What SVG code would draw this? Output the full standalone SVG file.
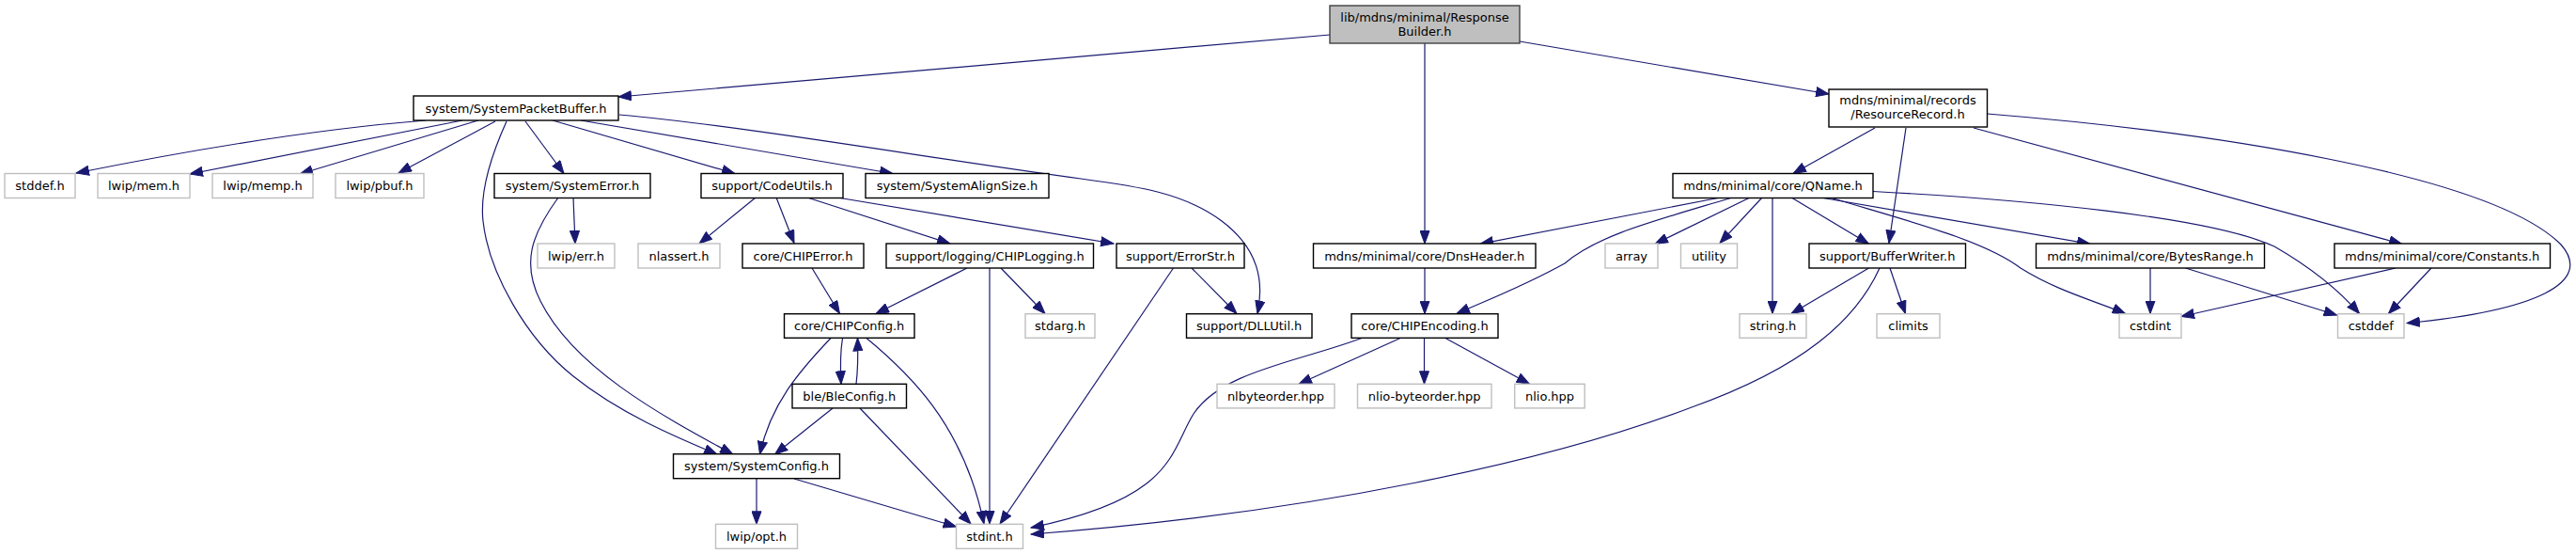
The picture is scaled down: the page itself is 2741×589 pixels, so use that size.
<svg xmlns="http://www.w3.org/2000/svg" width="2741" height="589" viewBox="0 0 2741 589">
<style>
rect{stroke-width:1.4}
.n rect{fill:#fff;stroke:#000}
.g rect{fill:#fff;stroke:#bfbfbf}
.r rect{fill:#bfbfbf;stroke:#404040}
text{font-family:"DejaVu Sans","Liberation Sans",sans-serif;font-size:13px;fill:#000;text-anchor:middle}
#edges path{fill:none;stroke:#191970;stroke-width:1.2;marker-end:url(#a)}
</style>
<defs>
<marker id="a" markerUnits="userSpaceOnUse" markerWidth="15" markerHeight="11" refX="14" refY="5.5" orient="auto" viewBox="0 0 15 11">
<path d="M0.5,0.5 L14,5.5 L0.5,10.5 z" fill="#191970" stroke="#191970" stroke-width="1"/>
</marker>
</defs>
<rect width="2741" height="589" fill="#fff"/>
<g id="edges">
<path d="M1415,37 L658,103"/>
<path d="M1516,46 L1516,259"/>
<path d="M1617,44 L1946,100"/>
<path d="M453,128 Q300,140 81,184"/>
<path d="M492,128 L202,185"/>
<path d="M509,128 L319,185"/>
<path d="M527,129 L424,184"/>
<path d="M539,129 C525,160 510,200 514,235 C520,290 560,360 610,400 C660,440 720,465 763,483"/>
<path d="M559,129 L600,184.5"/>
<path d="M588,128 L782,184.5"/>
<path d="M618,128 L950,184.5"/>
<path d="M659,122 C800,135 1000,170 1150,190 C1210,198 1260,205 1300,235 C1340,265 1345,300 1338,333.5"/>
<path d="M610,210 L612,259"/>
<path d="M594,210 C565,250 555,280 575,320 C610,390 700,440 780,483"/>
<path d="M804,210 L744,259"/>
<path d="M826,210 L845,258.5"/>
<path d="M859,210 L1011,259"/>
<path d="M891,210 L1185,259"/>
<path d="M864,285 L893.5,333.5"/>
<path d="M1029,285 L932,333.5"/>
<path d="M1053,285 L1053,557"/>
<path d="M1065,285 L1112,333.5"/>
<path d="M1268,285 L1316,333.5"/>
<path d="M1248.5,285 L1064,557"/>
<path d="M896.5,359.5 C894,375 894,390 895,408.3"/>
<path d="M911,408.3 C913,392 913,375 912.5,359.5"/>
<path d="M884,359.5 C850,395 820,430 808.5,483"/>
<path d="M922,359.5 C965,395 1025,450 1047,557"/>
<path d="M886,434 L824.5,483"/>
<path d="M915,434 L1033,557"/>
<path d="M805,509 L805,557.3"/>
<path d="M845,509 L1017.5,560"/>
<path d="M1516,284 L1516,333.7"/>
<path d="M1490,359.5 L1382,408.3"/>
<path d="M1515.5,359.5 L1515.5,408.3"/>
<path d="M1538,359.5 L1627.5,408.3"/>
<path d="M1449,359.5 C1380,385 1300,395 1270,440 C1245,480 1250,530 1097,561"/>
<path d="M1828,210.5 L1575,259.3"/>
<path d="M1841.5,210.5 C1760,235 1700,250 1665,280 C1620,305 1580,320 1550,333.5"/>
<path d="M1861,210.5 L1761,259.3"/>
<path d="M1874.5,210.5 L1830,258.5"/>
<path d="M1886,210.5 L1886,333.5"/>
<path d="M1907,210.5 L1988.5,259.3"/>
<path d="M1940,210.5 L2224,259.3"/>
<path d="M1949,210.5 C2030,235 2110,255 2150,285 C2190,310 2230,320 2261.5,333.5"/>
<path d="M1993,203.5 C2150,212 2350,230 2420,262 C2460,285 2490,310 2510.5,333.5"/>
<path d="M1995,136 L1908,184.5"/>
<path d="M2028,136 L2010,258.5"/>
<path d="M2100,136 L2556,259.5"/>
<path d="M2114.5,121 C2350,140 2650,185 2725,260 C2760,300 2700,330 2561,343.5"/>
<path d="M1988.5,285 L1906,333.5"/>
<path d="M2011,285 L2027.5,333.5"/>
<path d="M2000,285 C1975,340 1920,390 1800,433 C1650,490 1400,545 1097,568"/>
<path d="M2288,285 L2288,333.5"/>
<path d="M2325.5,285 L2486.5,335"/>
<path d="M2549,285 L2321,336.5"/>
<path d="M2587,285 L2541.5,333.5"/>
</g>
<g id="root" class="r"><rect x="1415" y="6" width="202" height="40"/><text x="1516" y="22.5">lib/mdns/minimal/Response</text><text x="1516" y="37.5">Builder.h</text></g>
<g id="SystemPacketBuffer" class="n"><rect x="440" y="102" width="218" height="26"/><text x="549" y="119.5">system/SystemPacketBuffer.h</text></g>
<g id="ResourceRecord" class="n"><rect x="1946" y="95" width="168.5" height="40"/><text x="2030" y="111">mdns/minimal/records</text><text x="2030" y="126">/ResourceRecord.h</text></g>
<g id="stddef" class="g"><rect x="5" y="184.5" width="75" height="26"/><text x="42.5" y="202">stddef.h</text></g>
<g id="lwipmem" class="g"><rect x="104" y="184.5" width="98" height="26"/><text x="153" y="202">lwip/mem.h</text></g>
<g id="lwipmemp" class="g"><rect x="226" y="184.5" width="107" height="26"/><text x="279.5" y="202">lwip/memp.h</text></g>
<g id="lwippbuf" class="g"><rect x="357" y="184.5" width="94" height="26"/><text x="404" y="202">lwip/pbuf.h</text></g>
<g id="SystemError" class="n"><rect x="526" y="184.5" width="166" height="26"/><text x="609" y="202">system/SystemError.h</text></g>
<g id="CodeUtils" class="n"><rect x="746" y="184.5" width="151" height="26"/><text x="821.5" y="202">support/CodeUtils.h</text></g>
<g id="SystemAlignSize" class="n"><rect x="921" y="184.5" width="195" height="26"/><text x="1018.5" y="202">system/SystemAlignSize.h</text></g>
<g id="QName" class="n"><rect x="1780" y="184.5" width="213" height="26"/><text x="1886.5" y="202">mdns/minimal/core/QName.h</text></g>
<g id="lwiperr" class="g"><rect x="572" y="259" width="82" height="26"/><text x="613" y="276.5">lwip/err.h</text></g>
<g id="nlassert" class="g"><rect x="679" y="259" width="87" height="26"/><text x="722.5" y="276.5">nlassert.h</text></g>
<g id="CHIPError" class="n"><rect x="790" y="259" width="129" height="26"/><text x="854.5" y="276.5">core/CHIPError.h</text></g>
<g id="CHIPLogging" class="n"><rect x="943" y="259" width="220.5" height="26"/><text x="1053.2" y="276.5">support/logging/CHIPLogging.h</text></g>
<g id="ErrorStr" class="n"><rect x="1188" y="259" width="136" height="26"/><text x="1256" y="276.5">support/ErrorStr.h</text></g>
<g id="DnsHeader" class="n"><rect x="1397.5" y="259" width="236.5" height="26"/><text x="1515.7" y="276.5">mdns/minimal/core/DnsHeader.h</text></g>
<g id="array" class="g"><rect x="1708" y="259" width="56" height="26"/><text x="1736" y="276.5">array</text></g>
<g id="utility" class="g"><rect x="1788.5" y="259" width="60" height="26"/><text x="1818.5" y="276.5">utility</text></g>
<g id="BufferWriter" class="n"><rect x="1925" y="259" width="166.5" height="26"/><text x="2008.2" y="276.5">support/BufferWriter.h</text></g>
<g id="BytesRange" class="n"><rect x="2166.5" y="259" width="243" height="26"/><text x="2288" y="276.5">mdns/minimal/core/BytesRange.h</text></g>
<g id="Constants" class="n"><rect x="2484" y="259" width="229.5" height="26"/><text x="2598.7" y="276.5">mdns/minimal/core/Constants.h</text></g>
<g id="CHIPConfig" class="n"><rect x="834.5" y="333.7" width="138.5" height="25.6"/><text x="903.7" y="351">core/CHIPConfig.h</text></g>
<g id="stdarg" class="g"><rect x="1091" y="333.7" width="74" height="25.6"/><text x="1128" y="351">stdarg.h</text></g>
<g id="DLLUtil" class="n"><rect x="1262.5" y="333.7" width="133.5" height="25.6"/><text x="1329.2" y="351">support/DLLUtil.h</text></g>
<g id="CHIPEncoding" class="n"><rect x="1438" y="333.7" width="156" height="25.6"/><text x="1516" y="351">core/CHIPEncoding.h</text></g>
<g id="string" class="g"><rect x="1851" y="333.7" width="71" height="25.6"/><text x="1886.5" y="351">string.h</text></g>
<g id="climits" class="g"><rect x="1997" y="333.7" width="67" height="25.6"/><text x="2030.5" y="351">climits</text></g>
<g id="cstdint" class="g"><rect x="2255" y="333.7" width="66" height="25.6"/><text x="2288" y="351">cstdint</text></g>
<g id="cstddef" class="g"><rect x="2487.5" y="333.7" width="70.5" height="25.6"/><text x="2522.7" y="351">cstddef</text></g>
<g id="BleConfig" class="n"><rect x="843" y="408.3" width="121.5" height="25.6"/><text x="903.7" y="425.5">ble/BleConfig.h</text></g>
<g id="nlbyteorder" class="g"><rect x="1295" y="408.3" width="125" height="25.6"/><text x="1357.5" y="425.5">nlbyteorder.hpp</text></g>
<g id="nliobyteorder" class="g"><rect x="1444.5" y="408.3" width="142.5" height="25.6"/><text x="1515.7" y="425.5">nlio-byteorder.hpp</text></g>
<g id="nlio" class="g"><rect x="1611.7" y="408.3" width="74.5" height="25.6"/><text x="1649" y="425.5">nlio.hpp</text></g>
<g id="SystemConfig" class="n"><rect x="716.5" y="482.7" width="177" height="26"/><text x="805" y="500">system/SystemConfig.h</text></g>
<g id="lwipopt" class="g"><rect x="761.5" y="557.3" width="87" height="26"/><text x="805" y="574.5">lwip/opt.h</text></g>
<g id="stdint" class="g"><rect x="1017.5" y="557.3" width="71" height="26"/><text x="1053" y="574.5">stdint.h</text></g>
</svg>
